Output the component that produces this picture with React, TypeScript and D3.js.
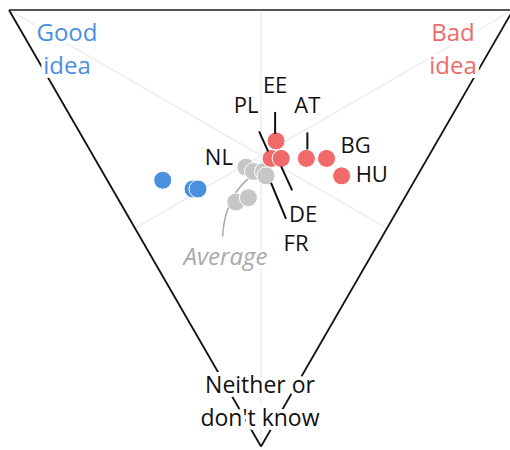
import * as d3 from "d3";

// shares of answers (good idea / bad idea / neither or don't know), in %
const codes = ["NL", "", "", "FR", "", "", "", "", "", "EE", "PL", "DE", "AT", "BG", "HU"];
const groups = ["avg", "avg", "avg", "avg", "avg", "avg", "good", "good", "good", "bad", "bad", "bad", "bad", "bad", "bad"];
const good = [35, 33, 31, 30, 33, 31, 50, 43, 42, 32, 31, 29, 24, 20, 15];
const bad = [29, 30, 32, 32, 23, 26, 11, 16, 17, 38, 35, 37, 42, 46, 47];
const neither = [36, 37, 37, 38, 44, 43, 39, 41, 41, 30, 34, 34, 34, 34, 38];

const average = { good: 32, bad: 31, neither: 37 };

const cornerLabels = [
  { lines: ["Good", "idea"], corner: "good", color: "#4a8fe0", size: 24 },
  { lines: ["Bad", "idea"], corner: "bad", color: "#f06a6a", size: 24 },
  { lines: ["Neither or", "don't know"], corner: "neither", color: "#111", size: 23 },
];

// label placement for the named countries: text offset, anchor, leader line
const labelSpots: Record<string, { dx: number; dy: number; anchor: string; lead?: number[] }> = {
  EE: { dx: -1, dy: -48, anchor: "middle", lead: [-1, -29, -1, -7] },
  PL: { dx: -25, dy: -45, anchor: "middle", lead: [-12, -27, -3, -7] },
  AT: { dx: 1, dy: -45, anchor: "middle", lead: [1, -26, 1, -9] },
  DE: { dx: 22, dy: 64, anchor: "middle", lead: [0, 8, 11, 32] },
  FR: { dx: 30, dy: 75, anchor: "middle", lead: [5, 7, 20, 43] },
  BG: { dx: 14, dy: -5, anchor: "start" },
  HU: { dx: 14, dy: 6, anchor: "start" },
  NL: { dx: -13, dy: -2, anchor: "end" },
};

const colors: Record<string, string> = { good: "#4a8fe0", bad: "#f06a6a", avg: "#c6c6c6" };
const font = "'Open Sans', sans-serif";

export default function App() {
  const W = 510;
  const H = 450;
  const left = 9;
  const right = 513;
  const top = 10;
  const bottom = top + ((right - left) * Math.sqrt(3)) / 2;

  const xScale = d3.scaleLinear().domain([0, 1]).range([left, right]);
  const yScale = d3.scaleLinear().domain([0, 1]).range([top, bottom]);

  const project = (g: number, b: number, n: number): [number, number] => {
    const s = g + b + n;
    const bb = b / s;
    const nn = n / s;
    return [xScale(bb + nn / 2), yScale(nn)];
  };

  const G = project(1, 0, 0);
  const B = project(0, 1, 0);
  const N = project(0, 0, 1);
  const mid = (p: [number, number], q: [number, number]): [number, number] => [(p[0] + q[0]) / 2, (p[1] + q[1]) / 2];
  const medians = [
    [G, mid(B, N)],
    [B, mid(G, N)],
    [N, mid(G, B)],
  ];

  const points = codes.map((c, i) => {
    const [x, y] = project(good[i], bad[i], neither[i]);
    return { code: c, group: groups[i], x, y };
  });

  const avgPos = project(average.good, average.bad, average.neither);
  const avgText: [number, number] = [avgPos[0] - 33, avgPos[1] + 94];
  const curve = d3.path();
  curve.moveTo(avgText[0] - 3, avgText[1] - 29);
  curve.quadraticCurveTo(avgText[0], avgText[1] - 75, avgPos[0], avgPos[1]);

  const cornerPos: Record<string, { x: number; y: number }> = {
    good: { x: G[0] + 58, y: G[1] + 31 },
    bad: { x: B[0] - 60, y: B[1] + 31 },
    neither: { x: N[0] - 1, y: N[1] - 53 },
  };

  const halo = { stroke: "#fff", strokeWidth: 8, paintOrder: "stroke", strokeLinejoin: "round" as const };

  return (
    <svg width={W} height={H} style={{ position: "absolute", left: 0, top: 0, background: "#fff" }}>
      {medians.map((m, i) => (
        <line key={i} x1={m[0][0]} y1={m[0][1]} x2={m[1][0]} y2={m[1][1]} stroke="#eeeeee" strokeWidth={1.5} />
      ))}
      <line x1={G[0]} y1={G[1]} x2={B[0]} y2={B[1]} stroke="#555" strokeWidth={2} />
      <line x1={G[0]} y1={G[1]} x2={N[0]} y2={N[1]} stroke="#111" strokeWidth={1.8} />
      <line x1={B[0]} y1={B[1]} x2={N[0]} y2={N[1]} stroke="#111" strokeWidth={1.8} />

      {cornerLabels.map((c) => (
        <text
          key={c.corner}
          x={cornerPos[c.corner].x}
          y={cornerPos[c.corner].y}
          textAnchor="middle"
          fontFamily={font}
          fontSize={c.size}
          fill={c.color}
          {...halo}
        >
          {c.lines.map((l, i) => (
            <tspan key={i} x={cornerPos[c.corner].x} dy={i === 0 ? 0 : 33}>
              {l}
            </tspan>
          ))}
        </text>
      ))}

      <path d={curve.toString()} fill="none" stroke="#aaa" strokeWidth={1.5} />
      <text
        x={avgText[0]}
        y={avgText[1]}
        textAnchor="middle"
        fontFamily={font}
        fontStyle="italic"
        fontSize={24}
        fill="#aaa"
        {...halo}
        strokeWidth={5}
      >
        Average
      </text>

      {points.map((p, i) => (
        <circle key={i} cx={p.x} cy={p.y} r={9} fill={colors[p.group]} stroke="#fff" strokeWidth={1} />
      ))}

      {points
        .filter((p) => p.code && labelSpots[p.code])
        .map((p) => {
          const s = labelSpots[p.code];
          return (
            <g key={p.code}>
              {s.lead && (
                <line
                  x1={p.x + s.lead[0]}
                  y1={p.y + s.lead[1]}
                  x2={p.x + s.lead[2]}
                  y2={p.y + s.lead[3]}
                  stroke="#111"
                  strokeWidth={2}
                />
              )}
              <text
                x={p.x + s.dx}
                y={p.y + s.dy}
                textAnchor={s.anchor}
                fontFamily={font}
                fontSize={22}
                fill="#111"
                {...halo}
                strokeWidth={4}
              >
                {p.code}
              </text>
            </g>
          );
        })}
    </svg>
  );
}
